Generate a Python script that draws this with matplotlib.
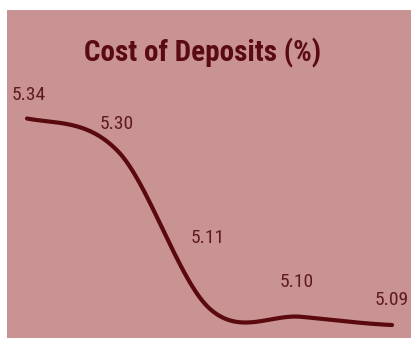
import numpy as np
import matplotlib
matplotlib.use("Agg")
import matplotlib.pyplot as plt

# data
periods = [0, 1, 2, 3, 4]
cost = [5.34, 5.30, 5.11, 5.10, 5.09]
labels = ["5.34", "5.30", "5.11", "5.10", "5.09"]
# label offsets from each point (in points), the picture places them unevenly
label_dy = [17, 20, 51, 25, 18]
label_dx = [1, -1, -1, -3, 0]

BG = "#c99393"
LINE = "#5a0a0e"
TXT = "#5e1a20"
FAM = ["Roboto Condensed", "DejaVu Sans"]


def smooth(xs, ys, n=60):
    # Catmull-Rom style smoothing, like a spreadsheet "smoothed line"
    xs = np.asarray(xs, float); ys = np.asarray(ys, float)
    m = np.zeros_like(ys)
    m[1:-1] = (ys[2:] - ys[:-2]) / 2
    m[0] = (ys[1] - ys[0]) / 2
    m[-1] = (ys[-1] - ys[-2]) / 2
    ox, oy = [], []
    for i in range(len(xs) - 1):
        t = np.linspace(0, 1, n)
        h00 = 2*t**3 - 3*t**2 + 1
        h10 = t**3 - 2*t**2 + t
        h01 = -2*t**3 + 3*t**2
        h11 = t**3 - t**2
        oy.append(h00*ys[i] + h10*m[i] + h01*ys[i+1] + h11*m[i+1])
        ox.append(xs[i] + t*(xs[i+1] - xs[i]))
    return np.concatenate(ox), np.concatenate(oy)


fig = plt.figure(figsize=(4.11, 3.38), dpi=100, facecolor="white")
W, H = 411, 338
ax = fig.add_axes([7 / W, 0, 1 - 7 / W, 1 - 10 / H])
ax.set_facecolor(BG)

sx, sy = smooth(periods, cost)
ax.plot(sx, sy, color=LINE, lw=3.0, solid_capstyle="round")

for x, y, s, dx, dy in zip(periods, cost, labels, label_dx, label_dy):
    ax.annotate(s, xy=(x, y), xytext=(dx, dy), textcoords="offset points",
                ha="center", va="center", fontsize=14, color=TXT, family=FAM)

ax.set_xlim(-0.219, 4.208)
ax.set_ylim(5.0743, 5.4714)
ax.set_xticks([]); ax.set_yticks([])
for sp in ax.spines.values():
    sp.set_visible(False)

fig.text(202.5 / W, 1 - 61 / H, "Cost of Deposits (%)", ha="center", va="baseline",
         fontsize=21, fontweight="bold", color="#5a0a12", family=FAM)

fig.savefig("out.png", dpi=100, facecolor="white")
